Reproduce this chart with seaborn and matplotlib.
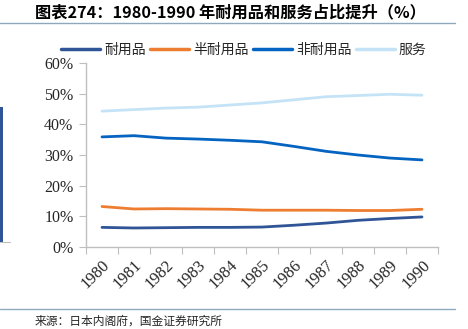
import matplotlib
matplotlib.use("Agg")
import matplotlib.pyplot as plt
import seaborn as sns
import pandas as pd
import numpy as np
from matplotlib.lines import Line2D
from matplotlib.patches import Rectangle
from matplotlib.ticker import FixedLocator, PercentFormatter

years = ["1980", "1981", "1982", "1983", "1984", "1985", "1986", "1987", "1988", "1989", "1990"]
durable = [6.4, 6.2, 6.3, 6.4, 6.4, 6.5, 7.1, 7.8, 8.7, 9.3, 9.8]
semi_durable = [13.2, 12.4, 12.5, 12.4, 12.3, 12.0, 12.0, 12.0, 11.9, 11.9, 12.3]
non_durable = [35.9, 36.3, 35.5, 35.2, 34.8, 34.3, 32.8, 31.2, 30.0, 29.0, 28.4]
services = [44.3, 44.8, 45.3, 45.6, 46.3, 47.0, 48.0, 49.0, 49.4, 49.8, 49.5]
series_names = ["耐用品", "半耐用品", "非耐用品", "服务"]
colors = ["#2F5597", "#ED7D31", "#0563C1", "#C5E3F6"]

title = "图表274：1980-1990 年耐用品和服务占比提升（%）"
source = "来源：日本内阁府，国金证券研究所"

sns.set_theme(style="white")
plt.rcParams['font.family'] = ['Liberation Serif', 'Noto Sans CJK SC', 'DejaVu Sans']

rows = []
for name, vals in zip(series_names, [durable, semi_durable, non_durable, services]):
    for i, (y, v) in enumerate(zip(years, vals)):
        rows.append({"idx": i, "year": y, "series": name, "value": v})
df = pd.DataFrame(rows)

fig = plt.figure(figsize=(4.68, 3.29), dpi=100)
ax = fig.add_axes([86/468, 1-247/329, (438-86)/468, (247-63)/329])

sns.lineplot(data=df, x="idx", y="value", hue="series", hue_order=series_names,
             palette=colors, linewidth=2.0, ax=ax, legend=False, sort=False)

ax.set_xlim(-0.5, len(years) - 0.5)
ax.set_ylim(0, 60)
ax.set_xlabel("")
ax.set_ylabel("")
ax.yaxis.set_major_locator(FixedLocator([0, 10, 20, 30, 40, 50, 60]))
ax.yaxis.set_major_formatter(PercentFormatter(decimals=0))
ax.set_xticks(range(len(years)))
ax.set_xticklabels(years, rotation=45, ha="right", rotation_mode="anchor", fontsize=12)
ax.xaxis.set_minor_locator(FixedLocator(np.arange(-0.5, len(years), 1.0)))
ax.tick_params(axis="x", which="major", length=0, pad=7)
ax.tick_params(axis="x", which="minor", length=5, width=0.8, color="#BFBFBF", direction="out", bottom=True)
ax.tick_params(axis="y", which="major", length=5, width=0.8, color="#BFBFBF", direction="out", left=True, labelsize=11.5, pad=4)
for s in ["top", "right"]:
    ax.spines[s].set_visible(False)
for s in ["left", "bottom"]:
    ax.spines[s].set_color("#BFBFBF")
    ax.spines[s].set_linewidth(1.0)

handles = [Line2D([0], [0], color=c, lw=2.5) for c in colors]
fig.legend(handles, series_names, loc="center", bbox_to_anchor=(244/468, 1-50/329), ncol=4,
           frameon=False, handlelength=2.8, handletextpad=0.3, columnspacing=0.3,
           prop={'family': ['Noto Sans CJK SC'], 'size': 10})

fig.text(35/468, 1-12/329, title, fontsize=11.7, fontweight="bold", style="italic",
         family=['Noto Sans CJK SC', 'DejaVu Sans'], va="center", ha="left", color="#000000")
fig.add_artist(Line2D([0, 455/468], [1-23/329, 1-23/329], color="#8EA9BC", lw=1.0))
fig.add_artist(Line2D([0, 455/468], [1-309/329, 1-309/329], color="#8EA9BC", lw=1.0))
fig.text(35/468, 1-321/329, source, fontsize=8.5, family=['Noto Sans CJK SC'], va="center", ha="left")

fig.add_artist(Rectangle((0, 1-242/329), 3/468, (242-107)/329, color="#2F5597", lw=0))
fig.add_artist(Line2D([0, 10/468], [1-242/329, 1-242/329], color="#BFBFBF", lw=0.8))

fig.savefig("out.png", dpi=100)
